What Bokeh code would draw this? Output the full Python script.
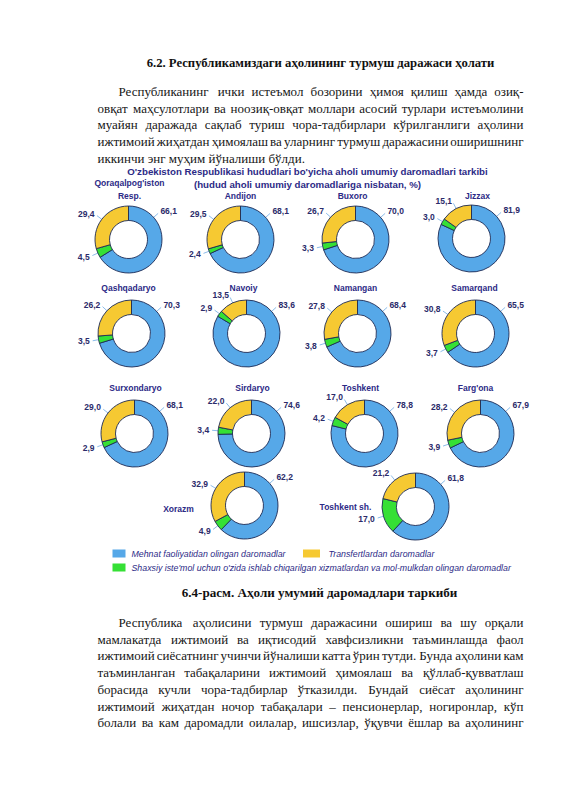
import math
from bokeh.plotting import figure
from bokeh.models import Range1d
from bokeh.embed import file_html
from bokeh.resources import INLINE
from bokeh.core.properties import value

# ---------------- data ----------------
regions = ["Qoraqalpog'iston\nResp.", "Andijon", "Buxoro", "Jizzax",
           "Qashqadaryo", "Navoiy", "Namangan", "Samarqand",
           "Surxondaryo", "Sirdaryo", "Toshkent", "Farg'ona",
           "Xorazm", "Toshkent sh."]
mehnat = [66.1, 68.1, 70.0, 81.9, 70.3, 83.6, 68.4, 65.5, 68.1, 74.6, 78.8, 67.9, 62.2, 61.8]
shaxsiy = [4.5, 2.4, 3.3, 3.0, 3.5, 2.9, 3.8, 3.7, 2.9, 3.4, 4.2, 3.9, 4.9, 17.0]
transfer = [29.4, 29.5, 26.7, 15.1, 26.2, 13.5, 27.8, 30.8, 29.0, 22.0, 17.0, 28.2, 32.9, 21.2]
series_names = ["Mehnat faoliyatidan olingan daromadlar",
                "Transfertlardan daromadlar",
                "Shaxsiy iste'mol uchun o'zida ishlab chiqarilgan xizmatlardan va mol-mulkdan olingan daromadlar"]
chart_title = ["O'zbekiston Respublikasi hududlari bo'yicha aholi umumiy daromadlari tarkibi",
               "(hudud aholi umumiy daromadlariga nisbatan, %)"]
heading = "6.2. Республикамиздаги аҳолининг турмуш даражаси ҳолати"
para1 = ["Республиканинг ички истеъмол бозорини ҳимоя қилиш ҳамда озиқ-",
         "овқат маҳсулотлари ва ноозиқ-овқат моллари асосий турлари истеъмолини",
         "муайян даражада сақлаб туриш чора-тадбирлари кўрилганлиги аҳолини",
         "ижтимоий жиҳатдан ҳимоялаш ва уларнинг турмуш даражасини оширишнинг",
         "иккинчи энг муҳим йўналиши бўлди."]
caption = "6.4-расм. Аҳоли умумий даромадлари таркиби"
para2 = ["Республика аҳолисини турмуш даражасини ошириш ва шу орқали",
         "мамлакатда ижтимоий ва иқтисодий хавфсизликни таъминлашда фаол",
         "ижтимоий сиёсатнинг учинчи йўналиши катта ўрин тутди. Бунда аҳолини кам",
         "таъминланган табақаларини ижтимоий ҳимоялаш ва қўллаб-қувватлаш",
         "борасида  кучли чора-тадбирлар ўтказилди. Бундай сиёсат аҳолининг",
         "ижтимоий жиҳатдан ночор табақалари – пенсионерлар, ногиронлар, кўп",
         "болали ва кам даромадли оилалар, ишсизлар, ўқувчи ёшлар ва аҳолининг"]

# ---------------- layout (page pixel coordinates) ----------------
cx = [128, 240, 355, 471, 131, 246, 357, 475, 134, 251, 364, 480, 244, 415]
cy = [239, 239, 239, 238, 333, 333, 333, 333, 433, 433, 433, 433, 505, 506]
tx = [129, 240, 352, 477, 128, 243, 355, 474, 135, 252, 360, 475, 178, 345]
ty = [189, 195, 195, 195, 287, 287, 287, 287, 387, 387, 387, 387, 508, 506]
R_OUT, R_IN = 33.5, 19.0

BLUE, YELLOW, GREEN = "#56a8e8", "#f6c932", "#35e035"
EDGE = "#1d2a55"
NAVY = "#2c2a86"
LABEL = "#2b2b6a"

def Y(py):
    return 800 - py

p = figure(width=549, height=784, x_range=Range1d(0, 549), y_range=Range1d(16, 800),
           output_backend="svg", toolbar_location=None, min_border=0,
           x_axis_type=None, y_axis_type=None)
p.grid.visible = False
p.outline_line_color = None
p.background_fill_color = "white"
p.border_fill_color = "white"

# ---------------- donuts ----------------
wx, wy, ws, we, wc = [], [], [], [], []
lab = {"left": dict(x=[], y=[], t=[]), "right": dict(x=[], y=[], t=[]), "center": dict(x=[], y=[], t=[])}
lx0, ly0, lx1, ly1 = [], [], [], []

def add_label(i, frac_angle, txt):
    a = 2 * math.pi * frac_angle
    dx, dy = math.sin(a), -math.cos(a)  # page coords (y down)
    ex, ey = cx[i] + R_OUT * dx, cy[i] + R_OUT * dy
    mx, my = cx[i] + (R_OUT + 6) * dx, cy[i] + (R_OUT + 6) * dy
    lx0.append(ex); ly0.append(Y(ey)); lx1.append(mx); ly1.append(Y(my))
    tx_, ty_ = cx[i] + (R_OUT + 9) * dx, cy[i] + (R_OUT + 9) * dy
    if dx > 0.25:
        key = "left"
    elif dx < -0.25:
        key = "right"
    else:
        key = "center"
    lab[key]["x"].append(tx_)
    lab[key]["y"].append(Y(ty_))
    lab[key]["t"].append(txt)

fmt = lambda v: f"{v:.1f}".replace(".", ",")

for i in range(len(regions)):
    vals = [mehnat[i], shaxsiy[i], transfer[i]]
    cols = [BLUE, GREEN, YELLOW]
    tot = sum(vals)
    acc = 0.0
    for v, c in zip(vals, cols):
        s = math.pi / 2 - 2 * math.pi * acc / tot
        e = math.pi / 2 - 2 * math.pi * (acc + v) / tot
        wx.append(cx[i]); wy.append(Y(cy[i])); ws.append(s); we.append(e); wc.append(c)
        acc += v
    add_label(i, 0.135, fmt(mehnat[i]))
    add_label(i, (mehnat[i] + shaxsiy[i] / 2) / tot, fmt(shaxsiy[i]))
    add_label(i, (mehnat[i] + shaxsiy[i] + transfer[i] / 2) / tot, fmt(transfer[i]))

p.segment(x0=lx0, y0=ly0, x1=lx1, y1=ly1, line_color="#7fb4e6", line_width=0.9)
p.annular_wedge(x=wx, y=wy, inner_radius=R_IN, outer_radius=R_OUT,
                start_angle=ws, end_angle=we, direction="clock",
                fill_color=wc, line_color=EDGE, line_width=0.9)

for key, d in lab.items():
    p.text(x=d["x"], y=d["y"], text=d["t"], text_align=key, text_baseline="middle",
           text_font=value("Liberation Sans"), text_font_style="bold",
           text_font_size="8.5px", text_color=LABEL)

# donut titles
p.text(x=tx, y=[Y(v) for v in ty], text=regions, text_align="center", text_baseline="middle",
       text_font=value("Liberation Sans"), text_font_style="bold",
       text_font_size="8.5px", text_color=NAVY, text_line_height=1.25)

# chart title
p.text(x=[307, 307], y=[Y(171), Y(184)], text=chart_title, text_align="center",
       text_baseline="middle", text_font=value("Liberation Sans"), text_font_style="bold",
       text_font_size="9.7px", text_color=NAVY)

# legend
p.rect(x=[118.5, 311, 118.5], y=[Y(553), Y(553), Y(567)], width=[13, 17, 13], height=8,
       fill_color=[BLUE, YELLOW, GREEN], line_color=None)
p.text(x=[131, 328, 131], y=[Y(553), Y(553), Y(567)], text=series_names, text_align="left",
       text_baseline="middle", text_font=value("Liberation Sans"), text_font_style="italic",
       text_font_size="8.8px", text_color=NAVY)

# ---------------- body text ----------------
CW = {}
for ch, w in zip("абвгдежзийклмнопрстуфхцчшщъыьэюяёўқғҳ",
                 [.444, .509, .472, .410, .509, .444, .691, .395, .535, .535, .486, .499, .633, .535,
                  .500, .535, .500, .444, .437, .500, .648, .500, .535, .503, .770, .770, .517, .672,
                  .456, .429, .747, .460, .444, .500, .486, .410, .500]):
    CW[ch] = w
CW.update({",": .25, ".": .25, "-": .333, "–": .5, ":": .278, " ": .25})
SCALE = 1.0

def est(word, fs):
    return sum(CW.get(c, .68 if c.isupper() else .5) for c in word) * fs * SCALE

FS = 13.0
L, Rm = 97, 523
jx = {"left": [], "center": [], "right": []}
jy = {"left": [], "center": [], "right": []}
jt = {"left": [], "center": [], "right": []}

def put(key, x, y, t):
    jx[key].append(x); jy[key].append(Y(y)); jt[key].append(t)

def para(lines, y0, step, last_free, indent=118):
    for k, line in enumerate(lines):
        x0 = indent if k == 0 else L
        y = y0 + k * step
        if k == len(lines) - 1 and last_free:
            put("left", x0, y, line)
            continue
        words = line.split()
        widths = [est(w, FS) for w in words]
        gap = (Rm - x0 - sum(widths)) / (len(words) - 1)
        x = x0
        for j, (w, wd) in enumerate(zip(words, widths)):
            if j == 0:
                put("left", x0, y, w)
            elif j == len(words) - 1:
                put("right", Rm, y, w)
            else:
                put("center", x + wd / 2, y, w)
            x += wd + gap

para(para1, 91, 16.7, True)
para(para2, 622, 16.7, False)

for key in jx:
    p.text(x=jx[key], y=jy[key], text=jt[key], text_align=key, text_baseline="middle",
           text_font=value("Liberation Serif"), text_font_size=f"{FS}px", text_color="#161616")

p.text(x=[320], y=[Y(62)], text=[heading], text_align="center",
       text_baseline="middle", text_font=value("Liberation Serif"), text_font_style="bold",
       text_font_size="12.7px", text_color="#111111")
p.text(x=[319], y=[Y(592)], text=[caption], text_align="center",
       text_baseline="middle", text_font=value("Liberation Serif"), text_font_style="bold",
       text_font_size="13.1px", text_color="#111111")

open("out.html", "w").write(file_html(p, INLINE))
